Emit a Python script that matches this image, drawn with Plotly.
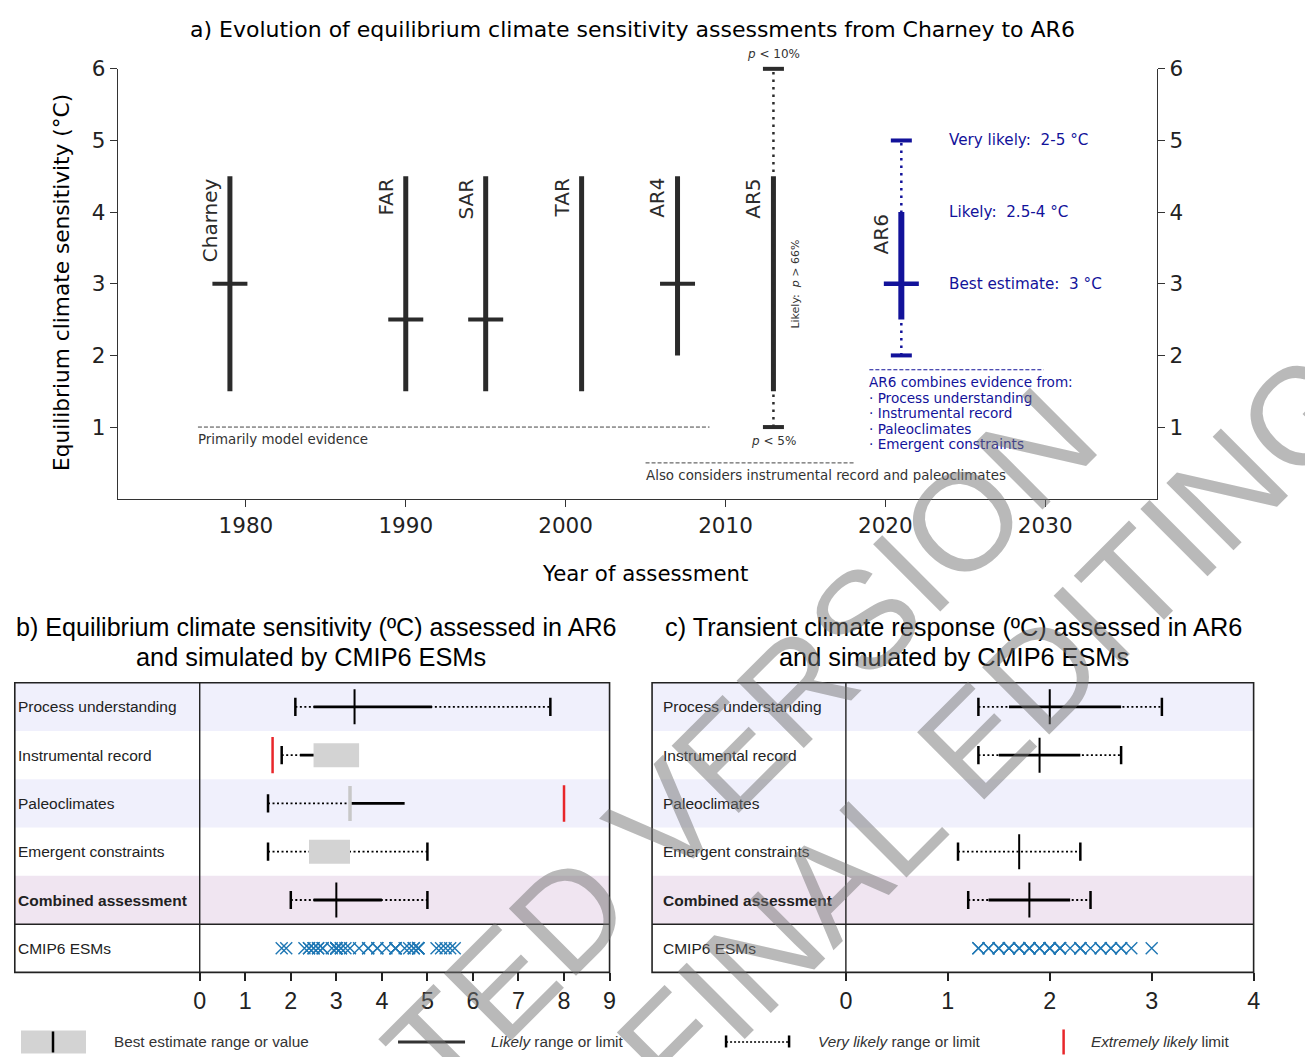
import plotly.graph_objects as go

W, H = 1313, 1057
# the photographed page is slightly shrunk and offset; positions below are
# given in reference-picture pixels and converted through fx / fy
SCX, OFX, SCY, OFY = 0.99, 14.0, 0.988, 20.2

# ---------------- Panel a data ----------------
assessments = ["Charney", "FAR", "SAR", "TAR", "AR4", "AR5"]
assess_years = [1979, 1990, 1995, 2001, 2007, 2013]
likely_low_a = [1.5, 1.5, 1.5, 1.5, 2.0, 1.5]
likely_high_a = [4.5, 4.5, 4.5, 4.5, 4.5, 4.5]
best_a = [3.0, 2.5, 2.5, None, 3.0, None]
ar5_year = 2013
ar5_very_likely = [1.0, 6.0]   # p<5% lower, p<10% upper
ar6_year = 2021
ar6_very_likely = [2.0, 5.0]
ar6_likely = [2.5, 4.0]
ar6_best = 3.0
year_ticks = [1980, 1990, 2000, 2010, 2020, 2030]
ecs_ticks = [1, 2, 3, 4, 5, 6]
evidence_model = [1977, 2009, 1.0]
evidence_obs = [2005, 2018.1, 0.5]
evidence_ar6 = [2019, 2029.9, 1.8]

# ---------------- Panels b / c data ----------------
row_labels = ["Process understanding", "Instrumental record", "Paleoclimates",
              "Emergent constraints", "<b>Combined assessment</b>", "CMIP6 ESMs"]

ecs_vl_low = [2.1, 1.8, 1.5, 1.5, 2.0]
ecs_vl_high = [7.7, None, None, 5.0, 5.0]
ecs_l_low = [2.5, 2.2, 3.3, None, 2.5]
ecs_l_high = [5.1, 2.5, 4.5, None, 4.0]
ecs_best = [3.4, None, None, None, 3.0]
ecs_best_rng_low = [None, 2.5, None, 2.4, None]
ecs_best_rng_high = [None, 3.5, None, 3.3, None]
ecs_best_gray = [None, None, 3.3, None, None]
ecs_ext_low = [None, 1.6, None, None, None]
ecs_ext_high = [None, None, 8.0, None, None]
ecs_cmip6 = [1.8, 1.9, 2.3, 2.4, 2.4, 2.5, 2.5, 2.6, 2.6, 2.7, 2.7, 2.9, 3.0, 3.0,
             3.0, 3.0, 3.0, 3.0, 3.1, 3.1, 3.2, 3.3, 3.5, 3.7, 3.7, 3.9, 3.9, 4.1,
             4.3, 4.3, 4.3, 4.3, 4.5, 4.6, 4.7, 4.7, 4.8, 4.8, 4.8, 4.8, 4.8,
             5.2, 5.3, 5.4, 5.5, 5.6]

tcr_vl_low = [1.3, 1.3, None, 1.1, 1.2]
tcr_vl_high = [3.1, 2.7, None, 2.3, 2.4]
tcr_l_low = [1.6, 1.5, None, None, 1.4]
tcr_l_high = [2.7, 2.3, None, None, 2.2]
tcr_best = [2.0, 1.9, None, 1.7, 1.8]
tcr_best_rng_low = [None, None, None, None, None]
tcr_best_rng_high = [None, None, None, None, None]
tcr_best_gray = [None, None, None, None, None]
tcr_ext_low = [None, None, None, None, None]
tcr_ext_high = [None, None, None, None, None]
tcr_cmip6 = [1.3, 1.3, 1.4, 1.4, 1.5, 1.5, 1.5, 1.6, 1.6, 1.6, 1.7, 1.7, 1.7, 1.8,
             1.8, 1.8, 1.8, 1.9, 1.9, 1.9, 2.0, 2.0, 2.0, 2.0, 2.1, 2.1, 2.1, 2.1,
             2.2, 2.3, 2.3, 2.3, 2.4, 2.5, 2.5, 2.6, 2.6, 2.7, 2.7, 2.8, 3.0]
ecs_ticks_b = list(range(0, 10))
tcr_ticks_c = list(range(0, 5))

# ---------------- styling ----------------
DARK = "#2b2b2b"
NAVY = "#12129a"
BLUE = "#1f77b4"
RED = "#e8262a"
GRAY = "#d3d3d3"
DV = "DejaVu Sans"
AR = "Liberation Sans, Arial, sans-serif"


def fx(r):
    return max((r - OFX) / SCX, 0.8)


def fy(r):
    return (r - OFY) / SCY


def px(r):
    return fx(r) / W


def py(r):
    return 1 - fy(r) / H


fig = go.Figure()

# ---------- panel a ----------
bx, by = [], []
for yr, lo, hi in zip(assess_years, likely_low_a, likely_high_a):
    bx += [yr, yr, None]
    by += [lo, hi, None]
fig.add_trace(go.Scatter(x=bx, y=by, mode="lines", line=dict(color=DARK, width=5),
                         xaxis="x", yaxis="y", cliponaxis=False))
fig.add_trace(go.Scatter(x=[ar5_year, ar5_year], y=ar5_very_likely, mode="lines",
                         line=dict(color=DARK, width=2.5, dash="2.5px,5px"),
                         xaxis="x", yaxis="y", cliponaxis=False))
fig.add_trace(go.Scatter(x=[ar5_year, ar5_year], y=ar5_very_likely, mode="markers",
                         marker=dict(symbol="line-ew", size=15, line=dict(color=DARK, width=4)),
                         xaxis="x", yaxis="y", cliponaxis=False))
bsx = [yr for yr, b in zip(assess_years, best_a) if b is not None]
bsy = [b for b in best_a if b is not None]
fig.add_trace(go.Scatter(x=bsx, y=bsy, mode="markers",
                         marker=dict(symbol="line-ew", size=25, line=dict(color=DARK, width=4)),
                         xaxis="x", yaxis="y", cliponaxis=False))
fig.add_trace(go.Scatter(x=[ar6_year, ar6_year], y=ar6_very_likely, mode="lines",
                         line=dict(color=NAVY, width=2.5, dash="2.5px,5px"),
                         xaxis="x", yaxis="y", cliponaxis=False))
fig.add_trace(go.Scatter(x=[ar6_year, ar6_year], y=ar6_likely, mode="lines",
                         line=dict(color=NAVY, width=6), xaxis="x", yaxis="y", cliponaxis=False))
fig.add_trace(go.Scatter(x=[ar6_year, ar6_year], y=ar6_very_likely, mode="markers",
                         marker=dict(symbol="line-ew", size=15, line=dict(color=NAVY, width=4)),
                         xaxis="x", yaxis="y", cliponaxis=False))
fig.add_trace(go.Scatter(x=[ar6_year], y=[ar6_best], mode="markers",
                         marker=dict(symbol="line-ew", size=25, line=dict(color=NAVY, width=4.5)),
                         xaxis="x", yaxis="y", cliponaxis=False))
for ev, col in [(evidence_model, "#444444"), (evidence_obs, "#444444"), (evidence_ar6, NAVY)]:
    fig.add_trace(go.Scatter(x=[ev[0], ev[1]], y=[ev[2], ev[2]], mode="lines",
                             line=dict(color=col, width=1, dash="4px,2px"),
                             xaxis="x", yaxis="y", cliponaxis=False))


# ---------- panels b, c ----------
def add_panel(xa, ya, vl_low, vl_high, l_low, l_high, best, br_low, br_high,
              bgray, ext_low, ext_high, cmip):
    for i in range(5):
        if vl_low[i] is not None:
            end = vl_high[i] if vl_high[i] is not None else (
                l_low[i] if l_low[i] is not None else br_low[i])
            fig.add_trace(go.Scatter(x=[vl_low[i], end], y=[i, i], mode="lines",
                                     line=dict(color="black", width=1.8, dash="2px,2.5px"),
                                     xaxis=xa, yaxis=ya))
        if br_low[i] is not None:
            fig.add_trace(go.Scatter(x=[br_low[i], br_high[i]], y=[i, i], mode="lines",
                                     line=dict(color=GRAY, width=24),
                                     xaxis=xa, yaxis=ya))
        if l_low[i] is not None:
            fig.add_trace(go.Scatter(x=[l_low[i], l_high[i]], y=[i, i], mode="lines",
                                     line=dict(color="black", width=2.8),
                                     xaxis=xa, yaxis=ya))
        caps = [v for v in (vl_low[i], vl_high[i]) if v is not None]
        if caps:
            fig.add_trace(go.Scatter(x=caps, y=[i] * len(caps), mode="markers",
                                     marker=dict(symbol="line-ns", size=13,
                                                 line=dict(color="black", width=2.5)),
                                     xaxis=xa, yaxis=ya))
        if bgray[i] is not None:
            fig.add_trace(go.Scatter(x=[bgray[i]], y=[i], mode="markers",
                                     marker=dict(symbol="line-ns", size=25,
                                                 line=dict(color="#c8c8c8", width=3.5)),
                                     xaxis=xa, yaxis=ya))
        if best[i] is not None:
            fig.add_trace(go.Scatter(x=[best[i]], y=[i], mode="markers",
                                     marker=dict(symbol="line-ns", size=25,
                                                 line=dict(color="black", width=2)),
                                     xaxis=xa, yaxis=ya))
        reds = [v for v in (ext_low[i], ext_high[i]) if v is not None]
        if reds:
            fig.add_trace(go.Scatter(x=reds, y=[i] * len(reds), mode="markers",
                                     marker=dict(symbol="line-ns", size=26,
                                                 line=dict(color=RED, width=2.5)),
                                     xaxis=xa, yaxis=ya))
    fig.add_trace(go.Scatter(x=cmip, y=[5] * len(cmip), mode="markers",
                             marker=dict(symbol="x-thin", size=12,
                                         line=dict(color=BLUE, width=1.4)),
                             xaxis=xa, yaxis=ya))


add_panel("x2", "y2", ecs_vl_low, ecs_vl_high, ecs_l_low, ecs_l_high, ecs_best,
          ecs_best_rng_low, ecs_best_rng_high, ecs_best_gray, ecs_ext_low, ecs_ext_high, ecs_cmip6)
add_panel("x3", "y3", tcr_vl_low, tcr_vl_high, tcr_l_low, tcr_l_high, tcr_best,
          tcr_best_rng_low, tcr_best_rng_high, tcr_best_gray, tcr_ext_low, tcr_ext_high, tcr_cmip6)

fig.add_trace(go.Scatter(x=[None], y=[None], xaxis="x", yaxis="y4"))
fig.update_traces(showlegend=False, hoverinfo="skip")

# ---------- shapes ----------
shapes = []
band_colors = ["#f0f0fc", None, "#f0f0fc", None, "#f0e5f1", None]
boxes = [(8.5, 609.5, 199.7, "y2"), (652, 1253.5, 845.8, "y3")]
for (L, R, D, yref) in boxes:
    for i, c in enumerate(band_colors):
        if c:
            shapes.append(dict(type="rect", xref="paper", yref=yref, x0=px(L), x1=px(R),
                               y0=i - 0.5, y1=i + 0.5, fillcolor=c, line=dict(width=0),
                               layer="below"))
    shapes.append(dict(type="line", xref="paper", yref=yref, x0=px(L), x1=px(R),
                       y0=4.5, y1=4.5, line=dict(color="#222", width=1.5)))
    shapes.append(dict(type="rect", xref="paper", yref="paper", x0=px(L), x1=px(R),
                       y0=py(972), y1=py(682.5), line=dict(color="#222", width=1.6)))
    shapes.append(dict(type="line", xref="paper", yref="paper", x0=px(D), x1=px(D),
                       y0=py(972), y1=py(682.5), line=dict(color="#222", width=1.4)))

shapes += [
    dict(type="rect", xref="paper", yref="paper", x0=px(21), x1=px(86), y0=py(1053), y1=py(1030),
         fillcolor=GRAY, line=dict(width=0)),
    dict(type="line", xref="paper", yref="paper", x0=px(53), x1=px(53), y0=py(1052), y1=py(1031),
         line=dict(color="black", width=2.5)),
    dict(type="line", xref="paper", yref="paper", x0=px(398), x1=px(465), y0=py(1041.5), y1=py(1041.5),
         line=dict(color="#333", width=3)),
    dict(type="line", xref="paper", yref="paper", x0=px(726), x1=px(789), y0=py(1041.5), y1=py(1041.5),
         line=dict(color="black", width=1.5, dash="2px,2px")),
    dict(type="line", xref="paper", yref="paper", x0=px(726), x1=px(726), y0=py(1047), y1=py(1035),
         line=dict(color="black", width=2.5)),
    dict(type="line", xref="paper", yref="paper", x0=px(789), x1=px(789), y0=py(1047), y1=py(1035),
         line=dict(color="black", width=2.5)),
    dict(type="line", xref="paper", yref="paper", x0=px(1063.5), x1=px(1063.5), y0=py(1054), y1=py(1029),
         line=dict(color=RED, width=2.5)),
]

# ---------- annotations ----------
ann = []


def A(**kw):
    d = dict(showarrow=False, xanchor="center", yanchor="middle")
    d.update(kw)
    ann.append(d)


A(text="a) Evolution of equilibrium climate sensitivity assessments from Charney to AR6",
  xref="paper", yref="paper", x=px(632), y=1.0, yanchor="top", yshift=5,
  font=dict(family=DV, size=22, color="black"))
A(text="Equilibrium climate sensitivity (°C)", xref="paper", yref="paper", x=px(62), y=py(283),
  textangle=-90, font=dict(family=DV, size=21.7, color="black"))
A(text="Year of assessment", xref="paper", yref="paper", x=px(645), y=py(573),
  font=dict(family=DV, size=21.3, color="black"))

for name, yr, hi in zip(assessments, assess_years, likely_high_a):
    A(text=name, x=yr, y=hi, xref="x", yref="y", xanchor="right", yanchor="top",
      textangle=-90, xshift=-6, font=dict(family=DV, size=20, color=DARK))
A(text="AR6", x=ar6_year, y=ar6_likely[1], xref="x", yref="y", xanchor="right", yanchor="top",
  textangle=-90, xshift=-6, font=dict(family=DV, size=20, color=DARK))
A(text="<i>p</i> &lt; 10%", x=ar5_year, y=ar5_very_likely[1], xref="x", yref="y",
  yanchor="bottom", yshift=6, font=dict(family=DV, size=12, color="#333"))
A(text="<i>p</i> &lt; 5%", x=ar5_year, y=ar5_very_likely[0], xref="x", yref="y",
  yanchor="top", yshift=-5, font=dict(family=DV, size=12, color="#333"))
A(text="Likely:&nbsp; <i>p</i> &gt; 66%", x=2014.4, y=3.0, xref="x", yref="y", textangle=-90,
  font=dict(family=DV, size=11, color="#333"))
A(text="Primarily model evidence", x=evidence_model[0], y=evidence_model[2], xref="x", yref="y",
  xanchor="left", yanchor="top", yshift=-3, xshift=-2, font=dict(family=DV, size=13.4, color="#333"))
A(text="Also considers instrumental record and paleoclimates", x=evidence_obs[0], y=evidence_obs[2],
  xref="x", yref="y", xanchor="left", yanchor="top", yshift=-3, xshift=-2,
  font=dict(family=DV, size=13.4, color="#333"))
for lbl, val in [("Very likely:&nbsp; 2-5 °C", ar6_very_likely[1]),
                 ("Likely:&nbsp; 2.5-4 °C", ar6_likely[1]),
                 ("Best estimate:&nbsp; 3 °C", ar6_best)]:
    A(text=lbl, x=2024, y=val, xref="x", yref="y", xanchor="left",
      xshift=-2, font=dict(family=DV, size=15.2, color=NAVY))
ar6_lines = ["AR6 combines evidence from:", "· Process understanding", "· Instrumental record",
             "· Paleoclimates", "· Emergent constraints"]
for k, t in enumerate(ar6_lines):
    A(text=t, x=evidence_ar6[0], y=py(382 + 15.5 * k), xref="x", yref="paper", xanchor="left",
      xshift=-2, font=dict(family=DV, size=13.6, color=NAVY))

A(text="b) Equilibrium climate sensitivity (ºC) assessed in AR6", xref="paper", yref="paper",
  x=px(316), y=py(627), font=dict(family=AR, size=25.1, color="black"))
A(text="and simulated by CMIP6 ESMs", xref="paper", yref="paper",
  x=px(311), y=py(657), font=dict(family=AR, size=25.3, color="black"))
A(text="c) Transient climate response (ºC) assessed in AR6", xref="paper", yref="paper",
  x=px(953), y=py(627), font=dict(family=AR, size=25.3, color="black"))
A(text="and simulated by CMIP6 ESMs", xref="paper", yref="paper",
  x=px(954), y=py(657), font=dict(family=AR, size=25.3, color="black"))

for i, lbl in enumerate(row_labels):
    A(text=lbl, xref="paper", yref="y2", x=px(16), y=i, xanchor="left",
      font=dict(family=AR, size=15.5, color="#222"))
    A(text=lbl, xref="paper", yref="y3", x=px(661), y=i, xanchor="left",
      font=dict(family=AR, size=15.5, color="#222"))

for t, xx in [("Best estimate range or value", 112), ("<i>Likely</i> range or limit", 489),
              ("<i>Very likely</i> range or limit", 816), ("<i>Extremely likely</i> limit", 1089)]:
    A(text=t, xref="paper", yref="paper", x=px(xx), y=py(1041), xanchor="left",
      font=dict(family=AR, size=15.3, color="#333"))

# watermark of the source figure
WM = dict(family=AR, size=138, color="rgba(115,115,115,0.5)")
A(text="ACCEPTED VERSION", xref="paper", yref="paper", x=px(572), y=py(912), textangle=-45, font=WM)
A(text="SUBJECT TO FINAL EDITING", xref="paper", yref="paper", x=px(676), y=py(1040),
  textangle=-45, font=WM)

axis_a = dict(showline=True, linecolor="#333", linewidth=1.3, ticks="outside", ticklen=7,
              tickwidth=1.3, tickcolor="#333", showgrid=False, zeroline=False,
              tickfont=dict(family=DV, size=21.5, color="#222"))
axis_bc = dict(showline=False, ticks="outside", ticklen=8, tickwidth=1.5, tickcolor="#222",
               showgrid=False, zeroline=False, tickfont=dict(family=AR, size=23.3, color="#222"))
ydom_a = [py(498.6), py(69)]
ydom_bc = [py(972), py(682.5)]

fig.update_layout(
    width=W, height=H, margin=dict(l=0, r=0, t=0, b=0),
    paper_bgcolor="white", plot_bgcolor="rgba(0,0,0,0)",
    font=dict(family=AR, color="black"),
    xaxis=dict(domain=[px(118), px(1157)], range=[1972, 2037], tickvals=year_ticks,
               anchor="y", **axis_a),
    yaxis=dict(domain=ydom_a, range=[0, 6], tickvals=ecs_ticks, anchor="x", **axis_a),
    yaxis4=dict(overlaying="y", side="right", range=[0, 6], tickvals=ecs_ticks, anchor="x",
                **axis_a),
    xaxis2=dict(domain=[px(199.7), px(609.5)], range=[0, 9], tickvals=ecs_ticks_b, anchor="y2",
                **axis_bc),
    yaxis2=dict(domain=ydom_bc, range=[5.5, -0.5], visible=False, anchor="x2"),
    xaxis3=dict(domain=[px(845.8), px(1253.5)], range=[0, 4], tickvals=tcr_ticks_c, anchor="y3",
                **axis_bc),
    yaxis3=dict(domain=ydom_bc, range=[5.5, -0.5], visible=False, anchor="x3"),
    shapes=shapes, annotations=ann,
)

fig.write_html("out.html")
